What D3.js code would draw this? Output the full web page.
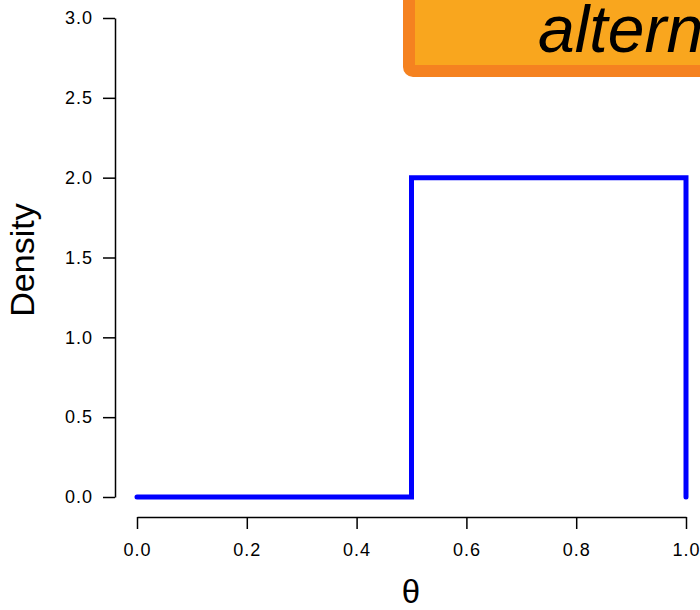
<!DOCTYPE html>
<html>
<head>
<meta charset="utf-8">
<script src="https://cdn.jsdelivr.net/npm/d3@7"></script>
<style>
  html, body { margin: 0; padding: 0; background: #fff; }
  svg { display: block; font-family: "Liberation Sans", Arial, Helvetica, sans-serif; }
</style>
</head>
<body>
<svg id="chart" width="700" height="610"></svg>
<script>
// Uniform(0.5, 1) density under the alternative hypothesis
const thetaPoints = [0, 0.5, 0.5, 1, 1];
const densityValues = [0, 0, 2, 2, 0];
const xTicks = [0, 0.2, 0.4, 0.6, 0.8, 1.0];
const yTicks = [0, 0.5, 1.0, 1.5, 2.0, 2.5, 3.0];
const bannerText = "alternative";

const svg = d3.select("#chart");

const x = d3.scaleLinear().domain([0, 1]).range([137, 686]);
const y = d3.scaleLinear().domain([0, 3]).range([497, 18]);

// Y axis
const yAxis = svg.append("g")
  .attr("transform", "translate(115,0)")
  .call(d3.axisLeft(y).tickValues(yTicks).tickFormat(d3.format(".1f")).tickSize(12).tickSizeOuter(0).tickPadding(10));
yAxis.select(".domain").attr("stroke", "#000").attr("stroke-width", 1.5);
yAxis.selectAll(".tick line").attr("stroke", "#000").attr("stroke-width", 1.5);
yAxis.selectAll(".tick text").attr("font-size", 18).attr("letter-spacing", 1).attr("fill", "#000").attr("font-family", "Liberation Sans, Arial, sans-serif");

// X axis
const xAxis = svg.append("g")
  .attr("transform", "translate(0,517)")
  .call(d3.axisBottom(x).tickValues(xTicks).tickFormat(d3.format(".1f")).tickSize(12).tickSizeOuter(0).tickPadding(14));
xAxis.select(".domain").attr("stroke", "#000").attr("stroke-width", 1.5);
xAxis.selectAll(".tick line").attr("stroke", "#000").attr("stroke-width", 1.5);
xAxis.selectAll(".tick text").attr("font-size", 18).attr("letter-spacing", 1).attr("fill", "#000").attr("font-family", "Liberation Sans, Arial, sans-serif");

// Axis titles
svg.append("text")
  .attr("x", 411).attr("y", 603)
  .attr("text-anchor", "middle")
  .attr("font-size", 33)
  .text("θ");

svg.append("text")
  .attr("transform", "translate(34,260) rotate(-90)")
  .attr("text-anchor", "middle")
  .attr("font-size", 34)
  .text("Density");

// Density curve
const line = d3.line()
  .x((d, i) => x(thetaPoints[i]))
  .y(d => y(d));

svg.append("path")
  .datum(densityValues)
  .attr("d", line)
  .attr("fill", "none")
  .attr("stroke", "#0000ff")
  .attr("stroke-width", 5)
  .attr("stroke-linecap", "round")
  .attr("stroke-linejoin", "miter");

// Hypothesis banner
svg.append("rect")
  .attr("x", 409).attr("y", -40)
  .attr("width", 600).attr("height", 111)
  .attr("rx", 4)
  .attr("fill", "#f9a61e")
  .attr("stroke", "#f58220")
  .attr("stroke-width", 12);

svg.append("text")
  .attr("x", 538).attr("y", 52)
  .attr("font-size", 66)
  .attr("font-style", "italic")
  .attr("fill", "#000")
  .text(bannerText);
</script>
</body>
</html>
